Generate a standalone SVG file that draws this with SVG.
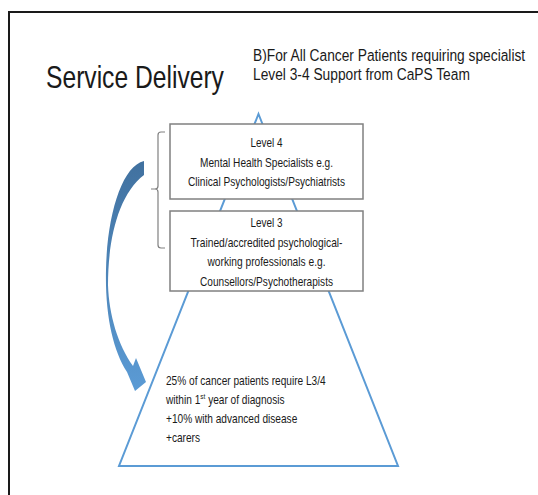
<svg xmlns="http://www.w3.org/2000/svg" width="538" height="495" viewBox="0 0 538 495">
  <defs>
    <linearGradient id="arrowGrad" x1="0" y1="0" x2="0" y2="1">
      <stop offset="0" stop-color="#41719f"/>
      <stop offset="1" stop-color="#5b9bd5"/>
    </linearGradient>
    <style>
      text { font-family: "Liberation Sans", Arial, sans-serif; fill: #1a1a1a; }
      .box { fill: #ffffff; stroke: #808080; stroke-width: 1.5; }
      .bt { font-size: 13px; text-anchor: middle; }
      .lt { font-size: 12.5px; }
      .hd { font-size: 17px; }
    </style>
  </defs>
  <rect x="0" y="0" width="538" height="495" fill="#ffffff"/>

  <g id="frame" fill="none" stroke="#1a1a1a" stroke-width="2">
    <line x1="8" y1="12" x2="538" y2="12"/>
    <line x1="9" y1="11" x2="9" y2="495"/>
  </g>

  <g id="title" transform="translate(46,88) scale(0.77,1)">
    <text x="0" y="0" font-size="32">Service Delivery</text>
  </g>

  <g id="subtitle" transform="translate(253,0) scale(0.81,1)">
    <text class="hd" x="0" y="61">B)For All Cancer Patients requiring specialist</text>
    <text class="hd" x="0" y="80">Level 3-4 Support from CaPS Team</text>
  </g>

  <g id="pyramid">
    <polygon points="258.5,114 398,466 119,466" fill="#ffffff" stroke="#5b9bd5" stroke-width="2" stroke-linejoin="miter"/>
    <g transform="translate(166,0) scale(0.81,1)">
      <text class="lt" x="0" y="385">25% of cancer patients require L3/4</text>
      <text class="lt" x="0" y="404">within 1<tspan font-size="8" dy="-5">st</tspan><tspan dy="5"> year of diagnosis</tspan></text>
      <text class="lt" x="0" y="423">+10% with advanced disease</text>
      <text class="lt" x="0" y="442">+carers</text>
    </g>
  </g>

  <g id="level4">
    <rect class="box" x="170" y="124" width="193" height="75"/>
    <text class="bt" x="266.5" y="147" textLength="32" lengthAdjust="spacingAndGlyphs">Level 4</text>
    <text class="bt" x="266.5" y="166.5" textLength="133" lengthAdjust="spacingAndGlyphs">Mental Health Specialists e.g.</text>
    <text class="bt" x="266.5" y="186" textLength="157" lengthAdjust="spacingAndGlyphs">Clinical Psychologists/Psychiatrists</text>
  </g>

  <g id="level3">
    <rect class="box" x="170" y="211" width="193" height="80"/>
    <text class="bt" x="266.5" y="227" textLength="32" lengthAdjust="spacingAndGlyphs">Level 3</text>
    <text class="bt" x="266.5" y="246.5" textLength="152" lengthAdjust="spacingAndGlyphs">Trained/accredited psychological-</text>
    <text class="bt" x="266.5" y="266" textLength="118" lengthAdjust="spacingAndGlyphs">working professionals e.g.</text>
    <text class="bt" x="266.5" y="285.5" textLength="133" lengthAdjust="spacingAndGlyphs">Counsellors/Psychotherapists</text>
  </g>

  <g id="connectors">
    <path id="bracket" d="M165,132 L161,132 Q158,132 158,135 L158,186 Q158,189 155,189 L151,189 M155,189 Q158,189 158,192 L158,245 Q158,248 161,248 L165,248" fill="none" stroke="#808080" stroke-width="1.2"/>
    <path id="curved-arrow" d="M144,161 C122,166 107,215 106,270 C105,315 113,350 127,372 L135,391 L146,382 L136,358 L133,366 C118,345 109,315 108,285 C108,240 118,195 144,175 Z" fill="url(#arrowGrad)"/>
  </g>
</svg>
